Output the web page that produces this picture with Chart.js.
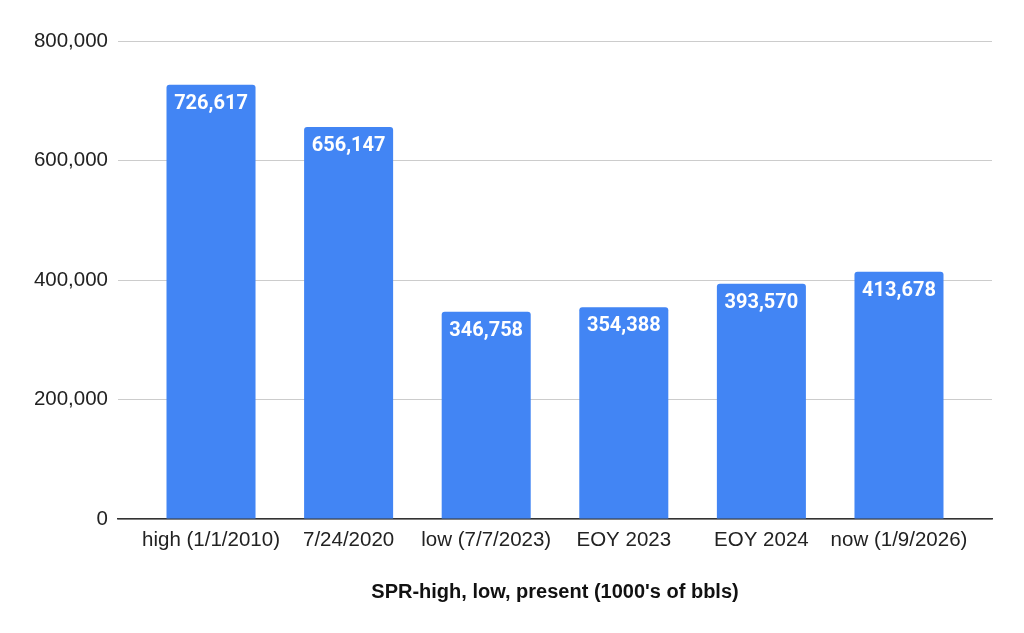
<!DOCTYPE html>
<html>
<head>
<meta charset="utf-8">
<script src="https://cdn.jsdelivr.net/npm/chart.js@4"></script>
<style>
  html, body { margin: 0; padding: 0; background: #fff; }
  #wrap { width: 1024px; height: 633px; }
</style>
</head>
<body>
<div id="wrap"><canvas id="grafica"></canvas></div>
<script>
const categorias = ['high (1/1/2010)', '7/24/2020', 'low (7/7/2023)', 'EOY 2023', 'EOY 2024', 'now (1/9/2026)']
const barriles = [726617, 656147, 346758, 354388, 393570, 413678]
const ticksY = [0, 200000, 400000, 600000, 800000]
const tituloX = "SPR-high, low, present (1000's of bbls)"

const fmt = n => n.toLocaleString('en-US')

// etiquetas blancas dentro de cada barra
const etiquetas = {
  id: 'etiquetas',
  afterDatasetsDraw(chart) {
    const ctx = chart.ctx
    const meta = chart.getDatasetMeta(0)
    ctx.save()
    ctx.fillStyle = '#fff'
    ctx.font = 'bold 20px Roboto'
    ctx.textAlign = 'center'
    ctx.textBaseline = 'middle'
    meta.data.forEach((bar, i) => {
      ctx.fillText(fmt(barriles[i]), bar.x, bar.y + 19)
    })
    ctx.restore()
  }
}

new Chart(document.getElementById('grafica'), {
  type: 'bar',
  data: {
    datasets: [{
      data: barriles.map((v, i) => ({ x: i, y: v })),
      backgroundColor: '#4285f4',
      borderRadius: { topLeft: 3, topRight: 3 },
      borderSkipped: 'start',
      categoryPercentage: 1,
      barPercentage: 0.647
    }]
  },
  options: {
    responsive: true,
    maintainAspectRatio: false,
    animation: false,
    layout: { padding: { top: 41, right: 32, bottom: 0, left: 0 } },
    plugins: { legend: { display: false }, tooltip: { enabled: false } },
    scales: {
      x: {
        type: 'linear',
        offset: false,
        min: -0.676,
        max: 5.676,
        afterBuildTicks: s => { s.ticks = categorias.map((_, i) => ({ value: i })) },
        afterFit: s => { s.height = 114 },
        grid: { display: false },
        border: { color: '#333', width: 1.5 },
        ticks: {
          callback: v => categorias[v],
          color: '#222',
          font: { family: 'Liberation Sans', size: 20.5 },
          padding: 1,
          maxRotation: 0,
          autoSkip: false
        },
        title: {
          display: true,
          text: tituloX,
          color: '#111',
          font: { family: 'Liberation Sans', size: 20, weight: 'bold' },
          padding: { top: 0, bottom: 29 }
        }
      },
      y: {
        min: 0,
        max: 800000,
        afterBuildTicks: s => { s.ticks = ticksY.map(v => ({ value: v })) },
        afterFit: s => { s.width = 118 },
        border: { display: false },
        grid: { color: '#ccc', lineWidth: 1, drawTicks: false },
        ticks: {
          callback: v => fmt(v),
          color: '#222',
          font: { family: 'Liberation Sans', size: 20.5 },
          padding: 10
        }
      }
    }
  },
  plugins: [etiquetas]
})
</script>
</body>
</html>
